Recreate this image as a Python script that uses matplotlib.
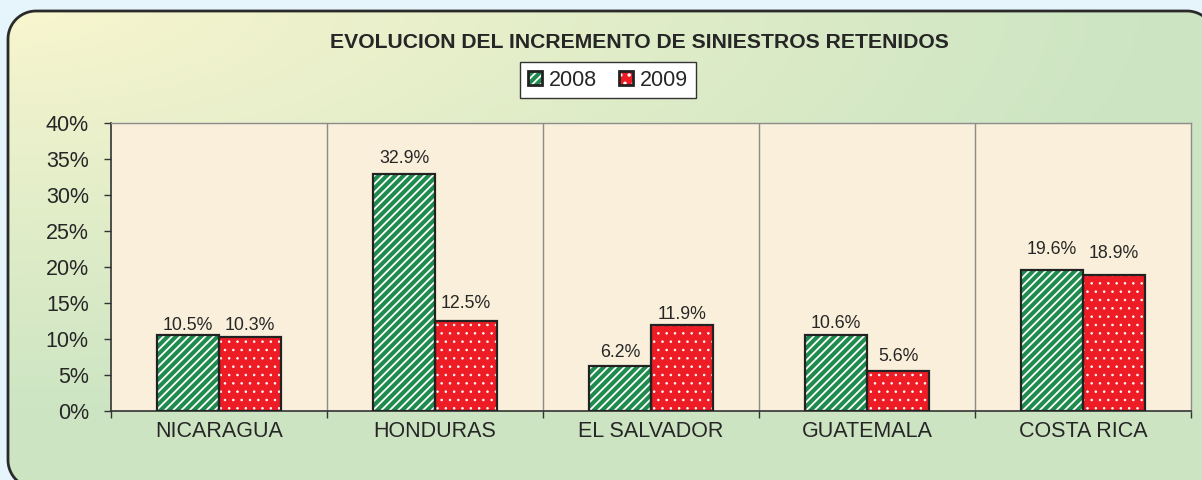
import matplotlib
matplotlib.use("Agg")
import matplotlib.pyplot as plt
import numpy as np
from matplotlib.patches import Patch, Polygon

plt.rcParams["font.family"] = ["Liberation Sans", "DejaVu Sans"]
plt.rcParams["hatch.linewidth"] = 1.3

countries = ["NICARAGUA", "HONDURAS", "EL SALVADOR", "GUATEMALA", "COSTA RICA"]
years = ["2008", "2009"]
inc_2008 = [10.5, 32.9, 6.2, 10.6, 19.6]
inc_2009 = [10.3, 12.5, 11.9, 5.6, 18.9]
yticks = [0, 5, 10, 15, 20, 25, 30, 35, 40]

# gap (px) between bar top and label baseline, as placed in the original
gap_2008 = [5, 11, 9, 7, 16]
gap_2009 = [7, 13, 6, 10, 17]

W, H = 1202, 480
fig = plt.figure(figsize=(W / 100, H / 100), dpi=100)
fig.patch.set_facecolor("#e6f4fb")

# background frame (pixel coords, y pointing up) with yellow -> green gradient
bg = fig.add_axes([0, 0, 1, 1], zorder=0)
bg.axis("off")


def rounded_rect(x0, y0, x1, y1, r, n=20):
    pts = []
    for cx, cy, a0 in ((x1 - r, y1 - r, 0), (x0 + r, y1 - r, 90),
                       (x0 + r, y0 + r, 180), (x1 - r, y0 + r, 270)):
        a = np.radians(np.linspace(a0, a0 + 90, n))
        pts.append(np.column_stack([cx + r * np.cos(a), cy + r * np.sin(a)]))
    return np.vstack(pts)


xx, yy = np.meshgrid(np.linspace(0, 1, 300), np.linspace(0, 1, 120))
t = np.clip(np.sqrt((xx / 0.95) ** 2 + (yy / 0.85) ** 2), 0, 1)
c0 = np.array([0.976, 0.965, 0.812])
c1 = np.array([0.804, 0.898, 0.765])
img = c0 + (c1 - c0) * t[..., None]
im = bg.imshow(img, extent=(0, W, 0, H), origin="upper", aspect="auto", zorder=1)
frame = Polygon(rounded_rect(8, H - 488, 1215, H - 11, 28), closed=True,
                facecolor="none", edgecolor="#2a2a2a", linewidth=2, zorder=2)
bg.add_patch(frame)
im.set_clip_path(frame)
bg.set_xlim(0, W)
bg.set_ylim(0, H)

ax = fig.add_axes([111 / W, 1 - 411 / H, 1080 / W, 288 / H], zorder=1)
ax.set_facecolor("#f9efda")

green, red = "#1f8b4d", "#ee1c25"
x = np.arange(len(countries))
bw = 0.287
has_hlw = hasattr(Patch, "set_hatch_linewidth")


def hatch_kw(lw):
    return {"hatch_linewidth": lw} if has_hlw else {}


def hatched_bars(xpos, vals, face, hatch, hlw):
    ax.bar(xpos, vals, bw, color=face, linewidth=0, zorder=3)
    ax.bar(xpos, vals, bw, facecolor="none", edgecolor="white", hatch=hatch,
           linewidth=0, zorder=4, **hatch_kw(hlw))
    ax.bar(xpos, vals, bw, facecolor="none", edgecolor="#222222", linewidth=1.6, zorder=5)


hatched_bars(x - bw / 2, inc_2008, green, "////", 1.3)
hatched_bars(x + bw / 2, inc_2009, red, "..", 0.6)

for xs, vals, gaps in ((x - bw / 2, inc_2008, gap_2008), (x + bw / 2, inc_2009, gap_2009)):
    for xi, v, g in zip(xs, vals, gaps):
        ax.annotate(f"{v:.1f}%", (xi, v), xytext=(0, g * 0.72), textcoords="offset points",
                    ha="center", va="baseline", fontsize=12.8, color="#262626")

for b in np.arange(0.5, len(countries) - 1, 1):
    ax.axvline(b, color="#8c8c8c", linewidth=1, zorder=2)

ax.set_xlim(-0.5, len(countries) - 0.5)
ax.set_ylim(0, 40)
ax.set_yticks(yticks)
ax.set_yticklabels([f"{v}%" for v in yticks])
ax.set_xticks(x)
ax.set_xticklabels(countries)
ax.set_xticks(np.arange(-0.5, len(countries), 1), minor=True)
ax.tick_params(axis="x", which="major", length=0, pad=7, labelsize=15.5, labelcolor="#262626")
ax.tick_params(axis="x", which="minor", length=5, width=1, color="#333333")
ax.tick_params(axis="y", length=5, width=1, pad=11, labelsize=15.5, labelcolor="#262626",
               color="#333333")
for s in ("left", "bottom"):
    ax.spines[s].set_color("#333333")
    ax.spines[s].set_linewidth(1.2)
for s in ("top", "right"):
    ax.spines[s].set_color("#8c8c8c")
    ax.spines[s].set_linewidth(1)

fig.text(639 / W, 1 - 43 / H, "EVOLUCION DEL INCREMENTO DE SINIESTROS RETENIDOS",
         ha="center", va="center", fontsize=15.2, fontweight="bold", color="#262626")

h08 = (Patch(facecolor=green, linewidth=0),
       Patch(facecolor="none", edgecolor="white", hatch="////", linewidth=0, **hatch_kw(1.3)),
       Patch(facecolor="none", edgecolor="#222222", linewidth=2))
h09 = (Patch(facecolor=red, linewidth=0),
       Patch(facecolor="none", edgecolor="white", hatch="..", linewidth=0, **hatch_kw(0.6)),
       Patch(facecolor="none", edgecolor="#222222", linewidth=2))
leg = fig.legend([h08, h09], years, loc="center", bbox_to_anchor=(608 / W, 1 - 80 / H),
                 ncol=2, fontsize=15.5, frameon=True, fancybox=False, handlelength=0.65,
                 handleheight=0.65, handletextpad=0.35, columnspacing=1.0,
                 borderpad=0.35, labelcolor="#262626")
leg.get_frame().set_edgecolor("#333333")
leg.get_frame().set_linewidth(1)
leg.get_frame().set_facecolor("white")
leg.get_frame().set_alpha(1)

fig.savefig("out.png", dpi=100, facecolor=fig.get_facecolor())
